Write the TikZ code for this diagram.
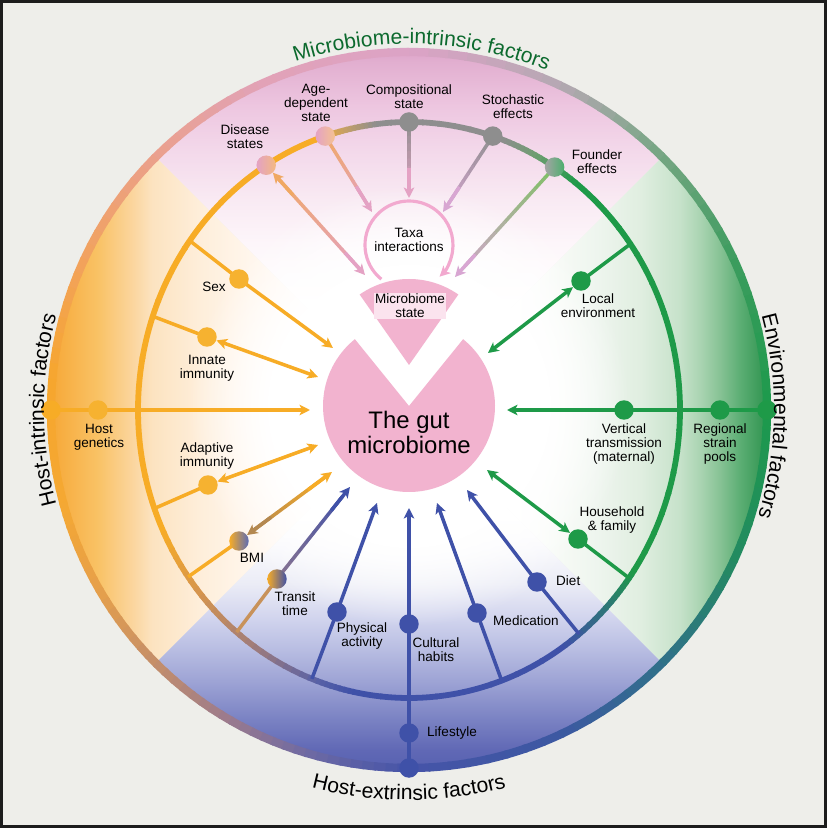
\documentclass[tikz,border=0pt]{standalone}
\usepackage{fontspec}
\setmainfont{Liberation Sans}
\usetikzlibrary{arrows.meta,calc,decorations.text,fadings}

% colours
\definecolor{bgcol}{HTML}{EEEEEA}
\definecolor{framecol}{HTML}{1C1C1C}
\definecolor{orng}{HTML}{F7AC26}
\definecolor{orngdot}{HTML}{F6B230}
\definecolor{grn}{HTML}{1E9A48}
\definecolor{blu}{HTML}{3F51A8}
\definecolor{gry}{HTML}{8E8E8E}
\definecolor{piepink}{HTML}{F2B3CF}
\definecolor{statebox}{HTML}{FBE3EE}
\definecolor{taxapink}{HTML}{F2A9CF}
\definecolor{lilac}{HTML}{D8A6D2}
\definecolor{arrpink}{HTML}{E4A2C4}
\definecolor{salmon}{HTML}{F0A862}
\definecolor{fgreen}{HTML}{7CC062}
\definecolor{bmibrown}{HTML}{B48850}
\definecolor{mauve}{HTML}{8A7490}
\definecolor{tan}{HTML}{C8925A}
\definecolor{titlegreen}{HTML}{0C6A2E}
\colorlet{dismid}{salmon!50!arrpink}
\colorlet{bmimid}{bmibrown!50!orng}
% outer ring stops
\definecolor{o0}{HTML}{1C9A4C}
\definecolor{o1}{HTML}{3C9C5E}
\definecolor{o2}{HTML}{74A682}
\definecolor{o3}{HTML}{B4A8B2}
\definecolor{o4}{HTML}{DCA3C6}
\definecolor{o5}{HTML}{E2A2B6}
\definecolor{o6}{HTML}{EAA08C}
\definecolor{o7}{HTML}{F2A25E}
\definecolor{o8}{HTML}{F6A62E}
\definecolor{o9}{HTML}{F5A832}
\definecolor{o10}{HTML}{E6A04A}
\definecolor{o11}{HTML}{C48E6A}
\definecolor{o12}{HTML}{9A7A8E}
\definecolor{o13}{HTML}{6A68A4}
\definecolor{o14}{HTML}{4654A8}
\definecolor{o15}{HTML}{3C58A2}
\definecolor{o16}{HTML}{30708A}
\definecolor{o17}{HTML}{248A62}
% inner ring stops
\definecolor{i1}{HTML}{6E9E70}
\definecolor{i2}{HTML}{C8A064}
\definecolor{i3}{HTML}{D49450}
\definecolor{i4}{HTML}{A07C7A}
\definecolor{i5}{HTML}{5A62A6}
\definecolor{i6}{HTML}{2C7A72}
% quadrant tints
\definecolor{sl1}{HTML}{F5A530}
\definecolor{sl2}{HTML}{F7AE42}
\definecolor{sl3}{HTML}{F9C265}
\definecolor{sl4}{HTML}{FBD6A0}
\definecolor{sl5}{HTML}{FCE3C0}
\definecolor{sl6}{HTML}{FEEEDA}
\definecolor{sl7}{HTML}{FFF6EC}
\definecolor{sl8}{HTML}{FFFBF7}
\definecolor{sr1}{HTML}{2E9450}
\definecolor{sr2}{HTML}{3A9A58}
\definecolor{sr3}{HTML}{5CAE74}
\definecolor{sr4}{HTML}{86C294}
\definecolor{sr5}{HTML}{AAD4B2}
\definecolor{sr6}{HTML}{C6E2CA}
\definecolor{sr7}{HTML}{E0EEE0}
\definecolor{sr8}{HTML}{EEF5EE}
\definecolor{sr9}{HTML}{F6FAF5}
\definecolor{sb1}{HTML}{5560B0}
\definecolor{sb2}{HTML}{6068B5}
\definecolor{sb3}{HTML}{7C84C4}
\definecolor{sb4}{HTML}{9CA2D4}
\definecolor{sb5}{HTML}{B8BDE2}
\definecolor{sb6}{HTML}{D2D5EE}
\definecolor{sb7}{HTML}{EBECF6}
\definecolor{sb8}{HTML}{F8F8FC}
\definecolor{st1}{HTML}{DDA2C8}
\definecolor{st2}{HTML}{E2AFD0}
\definecolor{st3}{HTML}{EDC6E0}
\definecolor{st4}{HTML}{F3D8EA}
\definecolor{st5}{HTML}{F9EAF3}
\definecolor{st6}{HTML}{FDF6FA}

\pgfdeclarehorizontalshading{hostfade}{100bp}{color(0bp)=(sl1); color(25bp)=(sl1); color(27bp)=(sl2); color(32bp)=(sl3); color(37bp)=(sl4); color(39.5bp)=(sl5); color(46bp)=(sl6); color(53bp)=(sl7); color(60bp)=(sl8); color(66bp)=(white); color(100bp)=(white)}
\pgfdeclarehorizontalshading{envfade}{100bp}{color(0bp)=(white); color(40bp)=(white); color(46bp)=(sr9); color(51bp)=(sr8); color(57bp)=(sr7); color(62.4bp)=(sr6); color(65.2bp)=(sr5); color(68bp)=(sr4); color(70.7bp)=(sr3); color(73.5bp)=(sr2); color(75bp)=(sr1); color(100bp)=(sr1)}
\pgfdeclareverticalshading{extfade}{100bp}{color(0bp)=(sb1); color(25bp)=(sb1); color(28bp)=(sb2); color(32.6bp)=(sb3); color(37.3bp)=(sb4); color(41.9bp)=(sb5); color(46.4bp)=(sb6); color(51bp)=(sb7); color(56bp)=(sb8); color(60bp)=(white); color(100bp)=(white)}
\pgfdeclareverticalshading{micfade}{100bp}{color(0bp)=(white); color(40bp)=(white); color(48bp)=(st6); color(54bp)=(st5); color(61bp)=(st4); color(67bp)=(st3); color(73bp)=(st2); color(75bp)=(st1); color(100bp)=(st1)}
\pgfdeclareradialshading{haloshade}{\pgfpointorigin}{color(0bp)=(white); color(16bp)=(white); color(25bp)=(black); color(50bp)=(black)}
\pgfdeclarefading{halo}{\pgfuseshading{haloshade}}

\pgfdeclarelayer{bg}
\pgfdeclarelayer{links}
\pgfsetlayers{bg,links,main}

% connector whose colour runs from #3 (at #1) to #4 (at #2), head at #2
\newcommand{\fadeconn}[4]{%
  \foreach \k in {0,...,8}{
    \pgfmathsetmacro\ta{\k/10}
    \pgfmathsetmacro\tb{(\k+1)/10}
    \pgfmathtruncatemacro\pc{10*\k+5}
    \draw[conn,line cap=round,#4!\pc!#3] ($(#1)!\ta!(#2)$) -- ($(#1)!\tb!(#2)$);
  }
  \draw[conn,tip,#4] ($(#2)!0.6cm!(#1)$) -- (#2);
}

\begin{document}
\begin{tikzpicture}[x=0.02cm,y=0.02cm]
  \tikzset{conn/.style={line width=2pt}}
  \tikzset{tip/.style={-{Stealth[length=6pt,width=6pt,inset=1.6pt]}}}
  \tikzset{tips/.style={{Stealth[length=6pt,width=6pt,inset=1.6pt]}-{Stealth[length=6pt,width=6pt,inset=1.6pt]}}}
  \tikzset{fdot/.style={circle,inner sep=0pt,minimum size=0.39cm}}
  \tikzset{lbl/.style={align=center,font=\fontsize{7.7}{8.1}\selectfont}}
  \tikzset{heading/.style={decorate,decoration={text along path,text align=center,text color=#1}}}

  \useasboundingbox (-409,-418) rectangle (418,410);

  \begin{pgfonlayer}{bg}
    \fill[bgcol] (-409,-418) rectangle (418,410);
    \begin{scope}
      \clip (0,0) circle (360);
      \shade[shading=hostfade] (0,0) -- (-362,362) -- (-362,-362) -- cycle;
      \shade[shading=envfade] (0,0) -- (362,362) -- (362,-362) -- cycle;
      \shade[shading=extfade] (0,0) -- (-362,-362) -- (362,-362) -- cycle;
      \shade[shading=micfade] (0,0) -- (-362,362) -- (362,362) -- cycle;
    \end{scope}
    \fill[white,path fading=halo] (0,4) circle (220);
    % outer ring
    \foreach \a/\b/\ca/\cb in {0/25/o0/o1,25/45/o1/o2,45/65/o2/o3,65/90/o3/o4,90/115/o4/o5,
        115/135/o5/o6,135/155/o6/o7,155/175/o7/o8,175/195/o8/o9,195/210/o9/o10,210/225/o10/o11,
        225/240/o11/o12,240/255/o12/o13,255/270/o13/o14,270/295/o14/o15,295/315/o15/o16,
        315/335/o16/o17,335/360/o17/o0}{
      \foreach \k in {0,...,7}{
        \pgfmathsetmacro\s{\a+(\b-\a)*\k/8}
        \pgfmathsetmacro\e{\a+(\b-\a)*(\k+1)/8+0.4}
        \pgfmathtruncatemacro\p{100-(2*\k+1)*100/16}
        \draw[line width=4.7pt,\ca!\p!\cb] (\s:358) arc[start angle=\s,end angle=\e,radius=358];
      }
    }
    % inner ring
    \foreach \a/\b/\ca/\cb in {0/52/grn/grn,52/62/grn/i1,62/70/i1/gry,70/97/gry/gry,97/104/gry/i2,
        104/110/i2/orng,110/205/orng/orng,205/220/orng/i3,220/235/i3/i4,235/250/i4/i5,
        250/258/i5/blu,258/305/blu/blu,305/318/blu/i6,318/326/i6/grn,326/360/grn/grn}{
      \foreach \k in {0,...,7}{
        \pgfmathsetmacro\s{\a+(\b-\a)*\k/8}
        \pgfmathsetmacro\e{\a+(\b-\a)*(\k+1)/8+0.4}
        \pgfmathtruncatemacro\p{100-(2*\k+1)*100/16}
        \draw[line width=3.3pt,\ca!\p!\cb] (\s:271 and 288) arc[start angle=\s,end angle=\e,x radius=271,y radius=288];
      }
    }
    % the gut microbiome, with its state wedge lifted out
    \fill[piepink] (0,4) -- ++(51:86) arc[start angle=51,end angle=-231,radius=86] -- cycle;
    \fill[piepink] (0,45) -- ++(55:86) arc[start angle=55,end angle=125,radius=86] -- cycle;
  \end{pgfonlayer}

  % factor dots on the inner ring
  \node[fdot,left color=arrpink,right color=salmon!80] (dis) at (121.8:271 and 288) {};
  \node[fdot,left color=arrpink,right color=salmon!70] (age) at (108:271 and 288) {};
  \node[fdot,fill=gry] (comp) at (90:271 and 288) {};
  \node[fdot,fill=gry] (stoch) at (72:271 and 288) {};
  \node[fdot,left color=gry!80!white,right color=grn!80] (found) at (57.5:271 and 288) {};
  % host-intrinsic
  \node[fdot,fill=orngdot] (sex) at (-170,131) {};
  \node[fdot,fill=orngdot] (innate) at (-202,73) {};
  \node[fdot,fill=orng] (hgo) at (180:358) {};
  \node[fdot,fill=orngdot] (hg) at (-311,0) {};
  \node[fdot,fill=orngdot] (adapt) at (-201,-75) {};
  \node[fdot,left color=orng,right color=blu!85] (bmi) at (-170,-131) {};
  \node[fdot,left color=orng,right color=blu] (transit) at (-132,-169) {};
  % host-extrinsic
  \node[fdot,fill=blu] (phys) at (-72,-202) {};
  \node[fdot,fill=blu] (cult) at (0,-214) {};
  \node[fdot,fill=blu] (life) at (0,-323) {};
  \node[fdot,fill=blu] (lifeo) at (270:358) {};
  \node[fdot,fill=blu] (med) at (68,-203) {};
  \node[fdot,fill=blu] (diet) at (128,-172) {};
  % environmental
  \node[fdot,fill=grn] (house) at (169,-129) {};
  \node[fdot,fill=grn] (vert) at (215,0) {};
  \node[fdot,fill=grn] (reg) at (311,0) {};
  \node[fdot,fill=grn] (rego) at (0:358) {};
  \node[fdot,fill=grn] (local) at (172,129) {};

  % labels
  \node[lbl] (lDis) at (-164,273) {Disease\\states};
  \node[lbl] (lAge) at (-93,307) {Age-\\dependent\\state};
  \node[lbl] (lComp) at (0,313) {Compositional\\state};
  \node[lbl] (lStoch) at (104,303) {Stochastic\\effects};
  \node[lbl] (lFound) at (188,248) {Founder\\effects};
  \node[lbl] (taxa) at (0,170) {Taxa\\interactions};
  \node[lbl,fill=statebox,inner sep=0.6pt] (state) at (1,104) {Microbiome\\state};
  \node[align=center,font=\fontsize{13.6}{14.2}\selectfont] (gut) at (0,-22) {The gut\\microbiome};
  \node[lbl] (lSex) at (-195,123) {Sex};
  \node[lbl] (lInnate) at (-202,42) {Innate\\immunity};
  \node[lbl] (lHg) at (-310,-27) {Host\\genetics};
  \node[lbl] (lAdapt) at (-202,-46) {Adaptive\\immunity};
  \node[lbl] (lBmi) at (-157,-148) {BMI};
  \node[lbl] (lTransit) at (-114,-194) {Transit\\time};
  \node[lbl] (lPhys) at (-47,-226) {Physical\\activity};
  \node[lbl] (lCult) at (27,-240) {Cultural\\habits};
  \node[lbl,anchor=west] (lLife) at (12,-323) {Lifestyle};
  \node[lbl,anchor=west] (lMed) at (78,-211) {Medication};
  \node[lbl,anchor=west] (lDiet) at (141,-171) {Diet};
  \node[lbl] (lHouse) at (203,-110) {Household\\\& family};
  \node[lbl] (lVert) at (215,-34) {Vertical\\transmission\\(maternal)};
  \node[lbl] (lReg) at (311,-34) {Regional\\strain\\pools};
  \node[lbl] (lLocal) at (189,104) {Local\\environment};

  % ring ends and arrow ends
  \coordinate (sexR) at (144:271 and 288);
  \coordinate (innR) at (161:271 and 288);
  \coordinate (adR) at (200:271 and 288);
  \coordinate (bmiR) at (215.4:271 and 288);
  \coordinate (trR) at (230.5:271 and 288);
  \coordinate (phR) at (249:271 and 288);
  \coordinate (medR) at (290:271 and 288);
  \coordinate (dietR) at (308.9:271 and 288);
  \coordinate (houseR) at (324.3:271 and 288);
  \coordinate (locR) at (35.2:271 and 288);
  \coordinate (sexT) at (-76,62);
  \coordinate (innT) at (-91,33);
  \coordinate (hgT) at (-99,0);
  \coordinate (adT) at (-91,-35);
  \coordinate (bmiT) at (-77,-62);
  \coordinate (trT) at (-59,-77);
  \coordinate (phT) at (-32,-93);
  \coordinate (cultT) at (0,-98);
  \coordinate (medT) at (28,-93);
  \coordinate (dietT) at (58,-80);
  \coordinate (houseT) at (78,-60);
  \coordinate (vertT) at (98,0);
  \coordinate (locT) at (79,57);
  \coordinate (disT) at (-44,135);
  \coordinate (ageT) at (-37,198);
  \coordinate (compT) at (0,212);
  \coordinate (stochT) at (34,198);
  \coordinate (foundT) at (46,133);
  \coordinate (taxaC) at (0,165);
  \coordinate (disB) at ($(dis)!0.2cm!(disT)$);
  \coordinate (disM) at ($(disB)!0.5!(disT)$);
  \coordinate (bmiB) at ($(bmi)!0.2cm!(bmiT)$);
  \coordinate (bmiM) at ($(bmiB)!0.5!(bmiT)$);

  \begin{pgfonlayer}{links}
    % microbiome-intrinsic
    \draw[conn,line width=1.8pt,tip,taxapink] ($(taxaC)+(231:44)$) arc[start angle=231,end angle=-46,radius=44];
    \fadeconn{disM}{disB}{dismid}{salmon}
    \fadeconn{disM}{disT}{dismid}{arrpink}
    \fadeconn{age}{ageT}{salmon}{arrpink}
    \fadeconn{comp}{compT}{gry}{arrpink}
    \fadeconn{stoch}{stochT}{gry}{lilac}
    \fadeconn{found}{foundT}{fgreen}{lilac}
    % host-intrinsic
    \draw[conn,tip,orng] (sexR) -- (sex.center) -- (sexT);
    \draw[conn,orng] (innR) -- (innate.center);
    \draw[conn,tips,orng] (innate) -- (innT);
    \draw[conn,tip,orng] (hgo.center) -- (hgT);
    \draw[conn,orng] (adR) -- (adapt.center);
    \draw[conn,tips,orng] (adapt) -- (adT);
    \draw[conn,orng] (bmiR) -- (bmi.center);
    \fadeconn{bmiM}{bmiB}{bmimid}{bmibrown}
    \fadeconn{bmiM}{bmiT}{bmimid}{orng}
    \draw[conn,tan] (trR) -- (transit.center);
    \fadeconn{transit}{trT}{mauve}{blu}
    % host-extrinsic
    \draw[conn,tip,blu] (phR) -- (phys.center) -- (phT);
    \draw[conn,tip,blu] (lifeo.center) -- (cultT);
    \draw[conn,tip,blu] (medR) -- (med.center) -- (medT);
    \draw[conn,tip,blu] (dietR) -- (diet.center) -- (dietT);
    % environmental
    \draw[conn,grn] (houseR) -- (house.center);
    \draw[conn,tips,grn] (house) -- (houseT);
    \draw[conn,tip,grn] (rego.center) -- (vertT);
    \draw[conn,grn] (locR) -- (local.center);
    \draw[conn,tips,grn] (local) -- (locT);
  \end{pgfonlayer}

  % group headings round the outer ring
  \path[heading=titlegreen,decoration={text={|\fontsize{12}{14}\selectfont|Microbiome-intrinsic factors}}]
    (148:366) arc[start angle=148,end angle=28,radius=366];
  \path[heading=black,decoration={text={|\fontsize{12}{14}\selectfont|Host-intrinsic factors}}]
    (235:365) arc[start angle=235,end angle=125,radius=365];
  \path[heading=black,decoration={text={|\fontsize{12}{14}\selectfont|Environmental factors}}]
    (45:365) arc[start angle=45,end angle=-47,radius=365];
  \path[heading=black,decoration={text={|\fontsize{12}{14}\selectfont|Host-extrinsic factors}}]
    (215:390) arc[start angle=215,end angle=325,radius=390];

  \draw[framecol,line width=1.5pt] (-407.7,-416.7) rectangle (416.7,408.7);
\end{tikzpicture}
\end{document}
